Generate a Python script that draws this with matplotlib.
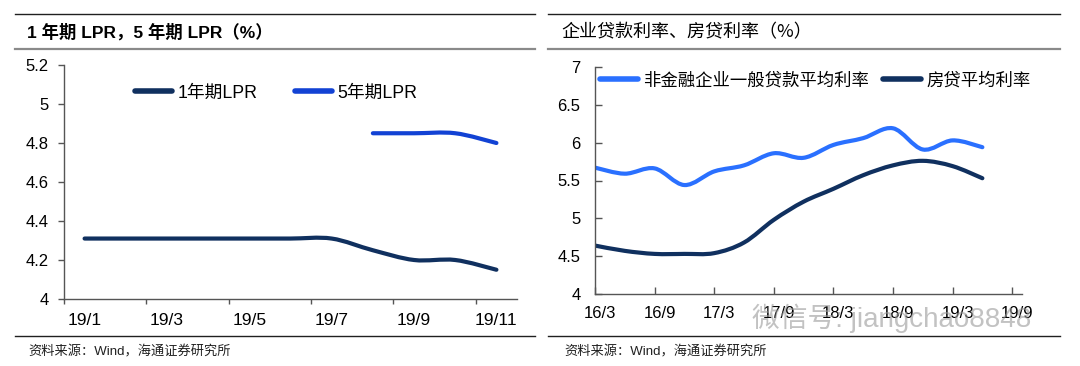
import matplotlib
matplotlib.use("Agg")
import matplotlib.pyplot as plt
import matplotlib.transforms as mtransforms
from matplotlib.path import Path
from matplotlib.patches import PathPatch
from matplotlib.lines import Line2D

# ---- data ----
lpr_months = ["19/1", "19/2", "19/3", "19/4", "19/5", "19/6",
              "19/7", "19/8", "19/9", "19/10", "19/11"]
lpr_1y = [4.31, 4.31, 4.31, 4.31, 4.31, 4.31, 4.31, 4.25, 4.20, 4.20, 4.15]
lpr_5y_months = ["19/8", "19/9", "19/10", "19/11"]
lpr_5y = [4.85, 4.85, 4.85, 4.80]

quarters = ["16/3", "16/6", "16/9", "16/12", "17/3", "17/6", "17/9", "17/12",
            "18/3", "18/6", "18/9", "18/12", "19/3", "19/6"]
corp_rate = [5.67, 5.59, 5.66, 5.44, 5.62, 5.70, 5.86, 5.80,
             5.97, 6.06, 6.19, 5.91, 6.03, 5.94]
mortgage_rate = [4.64, 4.57, 4.53, 4.53, 4.54, 4.68, 4.98, 5.22,
                 5.39, 5.57, 5.70, 5.76, 5.69, 5.53]
quarter_ticks = ["16/3", "16/9", "17/3", "17/9", "18/3", "18/9", "19/3", "19/9"]

NAVY = "#10305f"
BLUE_L = "#1242d4"
BLUE_R = "#2a70ff"
CJK = ["Liberation Sans", "Noto Sans CJK SC", "DejaVu Sans"]

plt.rcParams["font.family"] = CJK


def smooth_line(ax, xs, ys, color, lw=3.0):
    # excel style smoothed line: bezier segments through every point
    pts = list(zip(xs, ys))
    verts = [pts[0]]
    codes = [Path.MOVETO]
    n = len(pts)
    for i in range(n - 1):
        p0 = pts[max(i - 1, 0)]
        p1 = pts[i]
        p2 = pts[i + 1]
        p3 = pts[min(i + 2, n - 1)]
        c1 = (p1[0] + (p2[0] - p0[0]) / 6, p1[1] + (p2[1] - p0[1]) / 6)
        c2 = (p2[0] - (p3[0] - p1[0]) / 6, p2[1] - (p3[1] - p1[1]) / 6)
        verts += [c1, c2, p2]
        codes += [Path.CURVE4] * 3
    patch = PathPatch(Path(verts, codes), fill=False, edgecolor=color, lw=lw,
                      capstyle="round", joinstyle="round")
    ax.add_patch(patch)


def style_axes(ax):
    for s in ["top", "right"]:
        ax.spines[s].set_visible(False)
    for s in ["left", "bottom"]:
        ax.spines[s].set_color("#555555")
        ax.spines[s].set_linewidth(1.0)
    ax.tick_params(colors="#555555", labelcolor="black", labelsize=12, width=1.0)


fig = plt.figure(figsize=(10.8, 3.66), dpi=100)

# ---- left panel ----
ax1 = fig.add_axes([64 / 1080, 67 / 366, 453 / 1080, 234 / 366])
style_axes(ax1)
x1 = list(range(len(lpr_months)))
smooth_line(ax1, x1, lpr_1y, NAVY)
x5 = [lpr_months.index(m) for m in lpr_5y_months]
smooth_line(ax1, x5, lpr_5y, BLUE_L)
ax1.set_xlim(-0.5, len(lpr_months) - 0.5)
ax1.set_ylim(4.0, 5.2)
ax1.set_yticks([4.0, 4.2, 4.4, 4.6, 4.8, 5.0, 5.2])
ax1.set_yticklabels(["4", "4.2", "4.4", "4.6", "4.8", "5", "5.2"])
ax1.set_xticks([i - 0.5 for i in range(0, len(lpr_months), 2)])
ax1.set_xticklabels([])
ax1.set_xticks(list(range(0, len(lpr_months), 2)), minor=True)
ax1.set_xticklabels(lpr_months[::2], minor=True)
ax1.tick_params(axis="x", which="major", direction="out", length=3.5)
ax1.tick_params(axis="x", which="minor", length=0, pad=10, labelsize=12.5)
ax1.tick_params(axis="y", direction="out", length=4.3, pad=6.5)
h1 = [Line2D([], [], color=NAVY, lw=4, solid_capstyle="round"),
      Line2D([], [], color=BLUE_L, lw=4, solid_capstyle="round")]
ax1.legend(h1, ["1年期LPR", "5年期LPR"], loc="center left",
           bbox_to_anchor=(0.156, 0.88), ncol=2, frameon=False,
           prop={"family": CJK, "size": 12.8}, handlelength=2.1,
           handletextpad=0.3, columnspacing=2.1, borderpad=0, borderaxespad=0)

# ---- right panel ----
ax2 = fig.add_axes([595 / 1080, 72 / 366, 427 / 1080, 227 / 366])
style_axes(ax2)
xq = list(range(len(quarters)))
smooth_line(ax2, xq, corp_rate, BLUE_R)
smooth_line(ax2, xq, mortgage_rate, NAVY)
ax2.set_xlim(0, 14.33)
ax2.set_ylim(4, 7)
ax2.set_yticks([4, 4.5, 5, 5.5, 6, 6.5, 7])
ax2.set_yticklabels(["4", "4.5", "5", "5.5", "6", "6.5", "7"])
ax2.set_xticks(list(range(0, 2 * len(quarter_ticks), 2)))
ax2.set_xticklabels(quarter_ticks)
ax2.tick_params(axis="x", direction="in", length=5, pad=9)
ax2.tick_params(axis="y", direction="in", length=5, pad=10.5)
shift = mtransforms.ScaledTranslation(5 / 100, 0, fig.dpi_scale_trans)
for lab in ax2.get_xticklabels():
    lab.set_transform(lab.get_transform() + shift)
h2 = [Line2D([], [], color=BLUE_R, lw=4, solid_capstyle="round"),
      Line2D([], [], color=NAVY, lw=4, solid_capstyle="round")]
ax2.legend(h2, ["非金融企业一般贷款平均利率", "房贷平均利率"], loc="center left",
           bbox_to_anchor=(0.012, 0.943), ncol=2, frameon=False,
           prop={"family": CJK, "size": 12.5}, handlelength=2.2,
           handletextpad=0.3, columnspacing=0.8, borderpad=0, borderaxespad=0)

# ---- frame rules, titles, sources ----
def hrule(x0, x1, y, color, lw):
    fig.add_artist(Line2D([x0 / 1080, x1 / 1080], [1 - y / 366, 1 - y / 366],
                          color=color, lw=lw))

for x0, x1_ in [(15, 535), (548, 1060)]:
    hrule(x0, x1_, 14, "#202020", 1.0)
    hrule(x0, x1_, 49, "#8a8a8a", 1.6)
    hrule(x0, x1_, 336, "#202020", 1.0)

fig.text(27 / 1080, 1 - 32 / 366, "1 年期 LPR，5 年期 LPR（%）", fontsize=12.5,
         fontweight="bold", va="center", ha="left", family=CJK)
fig.text(561 / 1080, 1 - 32 / 366, "企业贷款利率、房贷利率（%）", fontsize=13,
         va="center", ha="left", family=["Noto Sans CJK SC", "DejaVu Sans"])
for xs in [28, 564]:
    fig.text(xs / 1080, 1 - 352 / 366, "资料来源：Wind，海通证券研究所", fontsize=9.5,
             va="center", ha="left", family=CJK, color="#202020")

# watermark over the right x labels
fig.text(752 / 1080, 1 - 318 / 366, "微信号: jiangchao8848", fontsize=20,
         va="center", ha="left", family=CJK, color="#9a9a9a", alpha=0.6)

fig.savefig("out.png", dpi=100)
